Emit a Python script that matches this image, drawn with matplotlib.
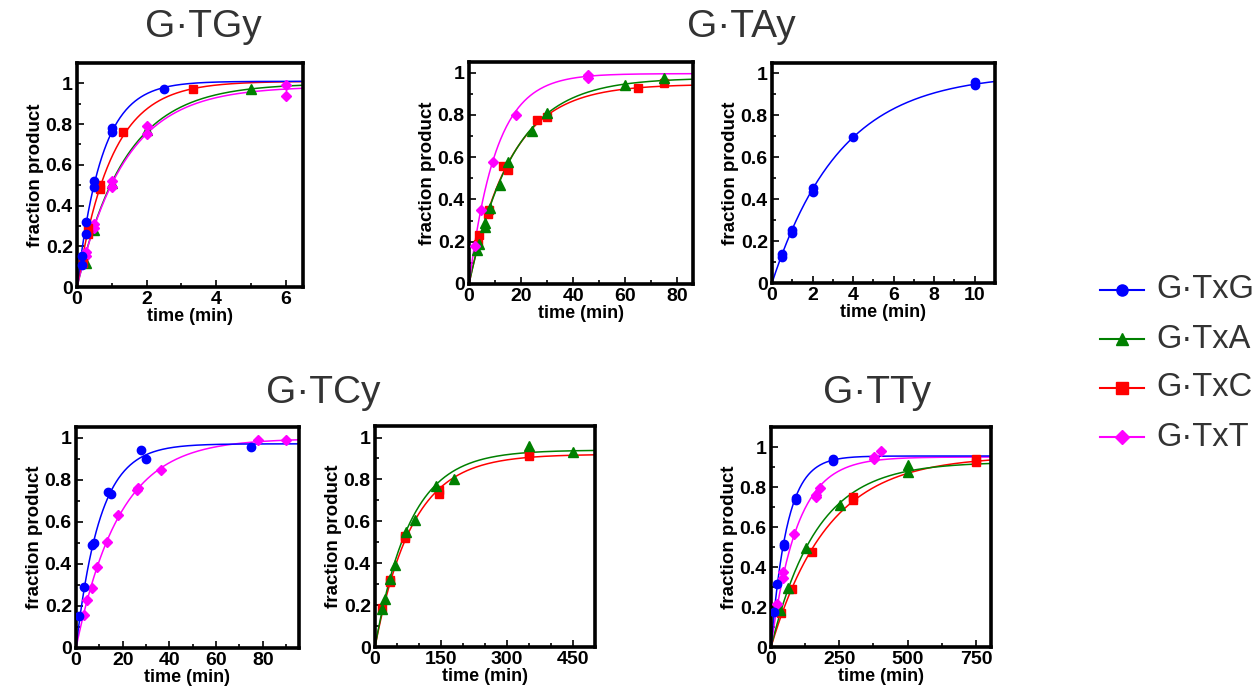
import numpy as np
import matplotlib.pyplot as plt
from matplotlib.lines import Line2D
from matplotlib.ticker import MultipleLocator

plt.rcParams['font.family'] = ['Liberation Sans', 'DejaVu Sans']

# series styles
colors = {'G': '#0000ff', 'A': '#008000', 'C': '#ff0000', 'T': '#ff00ff'}
markers = {'G': 'o', 'A': '^', 'C': 's', 'T': 'D'}
msizes = {'G': 6, 'A': 6.5, 'C': 6, 'T': 5}

# ---- G.TGy ----
tg_G_t = [0.13, 0.13, 0.25, 0.25, 0.5, 0.5, 1.0, 1.0, 2.5]
tg_G_y = [0.15, 0.11, 0.26, 0.32, 0.49, 0.52, 0.76, 0.78, 0.97]
tg_A_t = [0.25, 0.5, 1.0, 2.0, 5.0]
tg_A_y = [0.12, 0.28, 0.51, 0.77, 0.97]
tg_C_t = [0.17, 0.33, 0.33, 0.67, 0.67, 1.33, 3.33]
tg_C_y = [0.12, 0.29, 0.26, 0.48, 0.50, 0.76, 0.97]
tg_T_t = [0.25, 0.25, 0.5, 0.5, 1.0, 1.0, 2.0, 2.0, 6.0, 6.0]
tg_T_y = [0.15, 0.17, 0.29, 0.31, 0.49, 0.52, 0.75, 0.79, 0.94, 0.99]
# fit parameters (plateau, k)
tg_fit = {'G': (1.01, 1.4), 'A': (1.0, 0.72), 'C': (1.01, 1.0), 'T': (0.985, 0.72)}

# ---- G.TAy (left) ----
ta_A_t = [3.2, 4, 6, 6, 8, 12, 15, 24, 30, 60, 75]
ta_A_y = [0.16, 0.19, 0.27, 0.29, 0.36, 0.47, 0.575, 0.725, 0.81, 0.943, 0.975]
ta_C_t = [3.6, 3.8, 7.4, 7.6, 13, 15, 26, 30, 65, 75]
ta_C_y = [0.19, 0.23, 0.33, 0.35, 0.557, 0.54, 0.778, 0.79, 0.925, 0.953]
ta_T_t = [2.3, 4.6, 9.2, 18, 45.5, 45.5]
ta_T_y = [0.178, 0.35, 0.575, 0.80, 0.975, 0.99]
ta_fit = {'A': (0.975, 0.0585), 'C': (0.945, 0.062), 'T': (0.995, 0.096)}

# ---- G.TAy (right, G only) ----
ta_G_t = [0.5, 0.5, 1, 1, 2, 2, 4, 10, 10]
ta_G_y = [0.123, 0.137, 0.24, 0.253, 0.434, 0.453, 0.695, 0.943, 0.957]
ta_G_fit = (1.0, 0.297)

# ---- G.TCy (left) ----
tc_G_t = [1.4, 3.4, 7, 7.7, 13.6, 15, 27.9, 30, 75]
tc_G_y = [0.153, 0.29, 0.49, 0.50, 0.74, 0.73, 0.94, 0.90, 0.954]
tc_T_t = [3.3, 4.7, 6.7, 9.1, 13.1, 18.1, 26, 26.5, 36.3, 78, 90]
tc_T_y = [0.158, 0.226, 0.283, 0.383, 0.503, 0.633, 0.752, 0.76, 0.846, 0.987, 0.99]
tc_fit = {'G': (0.97, 0.0976), 'T': (0.995, 0.054)}

# ---- G.TCy (right) ----
tc_A_t = [17, 23, 34, 46, 70, 92, 139, 180, 350, 450]
tc_A_y = [0.18, 0.228, 0.327, 0.39, 0.55, 0.606, 0.77, 0.80, 0.96, 0.933]
tc_C_t = [15, 34, 34, 69, 69, 145, 145, 350, 350]
tc_C_y = [0.187, 0.31, 0.32, 0.52, 0.53, 0.73, 0.75, 0.91, 0.925]
tc_fit2 = {'A': (0.94, 0.01256), 'C': (0.92, 0.0118)}

# ---- G.TTy ----
tt_G_t = [12, 23, 46, 46, 91, 91, 226, 226]
tt_G_y = [0.173, 0.313, 0.503, 0.517, 0.733, 0.743, 0.93, 0.94]
tt_A_t = [34, 61, 129, 251, 503, 503]
tt_A_y = [0.183, 0.297, 0.495, 0.712, 0.875, 0.908]
tt_C_t = [36.5, 75.5, 151, 301, 301, 750, 750]
tt_C_y = [0.17, 0.292, 0.475, 0.737, 0.75, 0.925, 0.942]
tt_T_t = [23, 44, 44, 83, 163, 163, 178, 376, 376, 402]
tt_T_y = [0.213, 0.345, 0.375, 0.567, 0.75, 0.758, 0.797, 0.938, 0.95, 0.98]
tt_fit = {'G': (0.955, 0.017), 'A': (0.925, 0.006), 'C': (0.955, 0.0048), 'T': (0.95, 0.0105)}

legend_keys = ['G', 'A', 'C', 'T']
legend_names = ['G·TxG', 'G·TxA', 'G·TxC', 'G·TxT']


def style_ax(ax, xmax, ymax, xmaj, xmin_):
    ax.set_xlim(0, xmax)
    ax.set_ylim(0, ymax)
    ax.xaxis.set_major_locator(MultipleLocator(xmaj))
    ax.xaxis.set_minor_locator(MultipleLocator(xmin_))
    ax.yaxis.set_minor_locator(MultipleLocator(0.1))
    ax.set_yticks([0, 0.2, 0.4, 0.6, 0.8, 1.0])
    ax.set_yticklabels(['0', '0.2', '0.4', '0.6', '0.8', '1'])
    ax.tick_params(which='both', direction='in', top=False, right=False,
                   labelsize=14, width=1.2, pad=3)
    ax.tick_params(which='major', length=5)
    ax.tick_params(which='minor', length=3)
    for lab in ax.get_xticklabels() + ax.get_yticklabels():
        lab.set_fontweight('bold')
    for sp in ax.spines.values():
        sp.set_linewidth(2.6)
    ax.set_xlabel('time (min)', fontsize=13, fontweight='bold', labelpad=0)
    ax.set_ylabel('fraction product', fontsize=13.5, fontweight='bold', labelpad=1)


def plot_series(ax, key, t, y, fit, xmax):
    tt = np.linspace(0, xmax, 300)
    a, k = fit
    ax.plot(tt, a * (1 - np.exp(-k * tt)), color=colors[key], lw=1.1, zorder=2)
    ax.plot(t, y, ls='none', marker=markers[key], ms=msizes[key],
            color=colors[key], mec=colors[key], zorder=3)


fig = plt.figure(figsize=(12.59, 6.93), dpi=100)
W, H = 1259, 693


def add_ax(l, r, t, b):
    return fig.add_axes([l / W, 1 - b / H, (r - l) / W, (b - t) / H])


# panel 1
ax1 = add_ax(77, 303, 63, 287)
for key, t, y in [('A', tg_A_t, tg_A_y), ('T', tg_T_t, tg_T_y),
                  ('C', tg_C_t, tg_C_y), ('G', tg_G_t, tg_G_y)]:
    plot_series(ax1, key, t, y, tg_fit[key], 6.5)
style_ax(ax1, 6.5, 1.1, 2, 1)

# panel 2
ax2 = add_ax(469, 693, 62, 284)
for key, t, y in [('C', ta_C_t, ta_C_y), ('A', ta_A_t, ta_A_y), ('T', ta_T_t, ta_T_y)]:
    plot_series(ax2, key, t, y, ta_fit[key], 86)
style_ax(ax2, 86, 1.05, 20, 10)

# panel 3
ax3 = add_ax(772, 995, 63, 283)
plot_series(ax3, 'G', ta_G_t, ta_G_y, ta_G_fit, 11)
style_ax(ax3, 11, 1.05, 2, 1)

# panel 4
ax4 = add_ax(76, 299, 427, 648)
for key, t, y in [('T', tc_T_t, tc_T_y), ('G', tc_G_t, tc_G_y)]:
    plot_series(ax4, key, t, y, tc_fit[key], 95.5)
style_ax(ax4, 95.5, 1.05, 20, 10)

# panel 5
ax5 = add_ax(375, 595, 426, 647)
for key, t, y in [('C', tc_C_t, tc_C_y), ('A', tc_A_t, tc_A_y)]:
    plot_series(ax5, key, t, y, tc_fit2[key], 500)
style_ax(ax5, 500, 1.055, 150, 50)

# panel 6
ax6 = add_ax(771, 991, 427, 647)
for key, t, y in [('C', tt_C_t, tt_C_y), ('A', tt_A_t, tt_A_y),
                  ('T', tt_T_t, tt_T_y), ('G', tt_G_t, tt_G_y)]:
    plot_series(ax6, key, t, y, tt_fit[key], 805)
style_ax(ax6, 805, 1.1, 250, 125)

# group titles
title_kw = dict(fontsize=28, color='#333333', ha='center', va='center')
fig.text(203 / W, 1 - 27 / H, 'G·TGy', **title_kw)
fig.text(741 / W, 1 - 27 / H, 'G·TAy', **title_kw)
fig.text(323 / W, 1 - 393 / H, 'G·TCy', **title_kw)
fig.text(877 / W, 1 - 393 / H, 'G·TTy', **title_kw)

# legend, drawn by hand in figure pixels
for i, (key, name) in enumerate(zip(legend_keys, legend_names)):
    yy = 1 - (290 + 49 * i) / H
    fig.add_artist(Line2D([1100 / W, 1144 / W], [yy, yy], color=colors[key], lw=1.5,
                          transform=fig.transFigure))
    fig.add_artist(Line2D([1122 / W], [yy], color=colors[key], marker=markers[key],
                          ms=msizes[key] + 2, transform=fig.transFigure))
    fig.text(1156 / W, yy, name, fontsize=23.5, color='#333333', ha='left', va='center')

fig.savefig('out.png', dpi=100)
